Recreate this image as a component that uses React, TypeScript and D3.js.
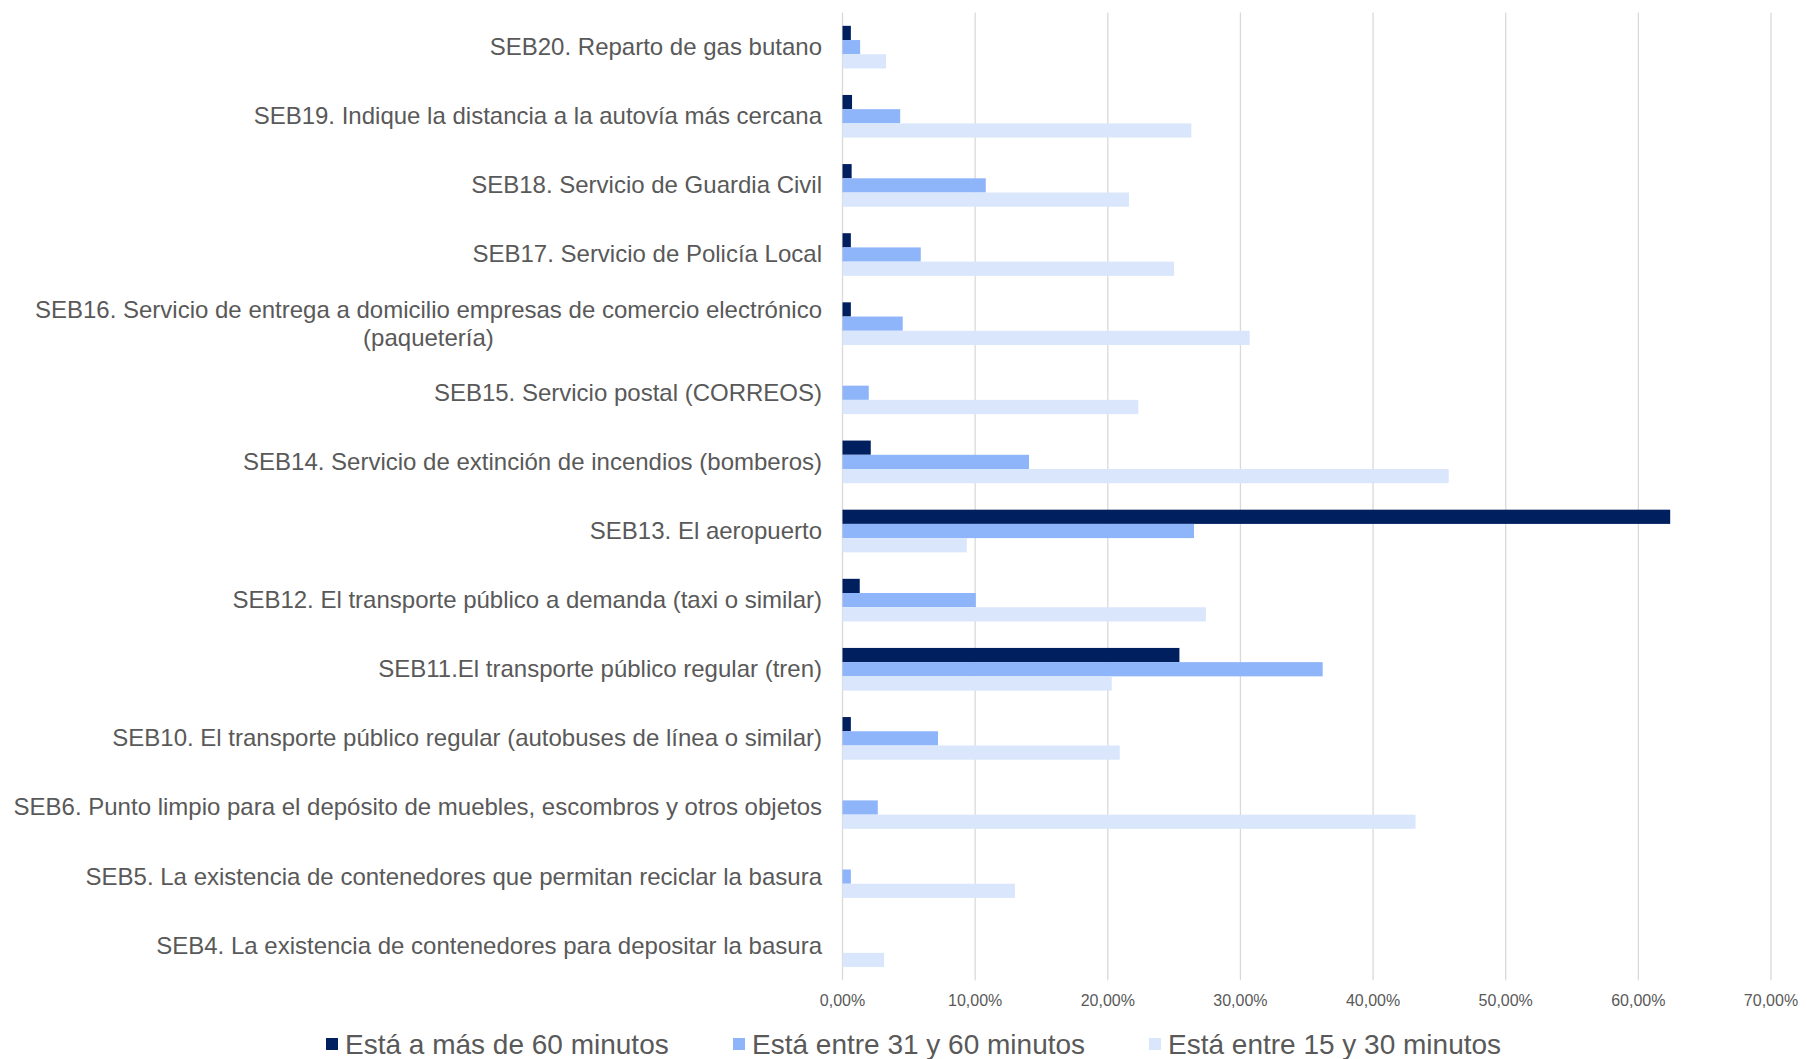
import React, { useEffect, useRef } from "react";
import * as d3 from "d3";

const categories: string[][] = [
  ["SEB20. Reparto de gas butano"],
  ["SEB19. Indique la distancia a la autovía más cercana"],
  ["SEB18. Servicio de Guardia Civil"],
  ["SEB17. Servicio de Policía Local"],
  ["SEB16. Servicio de entrega a domicilio empresas de comercio electrónico", "(paquetería)"],
  ["SEB15. Servicio postal (CORREOS)"],
  ["SEB14. Servicio de extinción de incendios (bomberos)"],
  ["SEB13. El aeropuerto"],
  ["SEB12. El transporte público a demanda (taxi o similar)"],
  ["SEB11.El transporte público regular (tren)"],
  ["SEB10. El transporte público regular (autobuses de línea o similar)"],
  ["SEB6. Punto limpio para el depósito de muebles, escombros y otros objetos"],
  ["SEB5. La existencia de contenedores que permitan reciclar la basura"],
  ["SEB4. La existencia de contenedores para depositar la basura"],
];

const seriesNames = [
  "Está a más de 60 minutos",
  "Está entre 31 y 60 minutos",
  "Está entre 15 y 30 minutos",
];

const mas60 = [0.63, 0.72, 0.69, 0.63, 0.63, 0, 2.13, 62.4, 1.3, 25.4, 0.63, 0, 0, 0];
const entre31y60 = [1.33, 4.35, 10.8, 5.9, 4.54, 1.98, 14.06, 26.5, 10.05, 36.2, 7.2, 2.66, 0.63, 0];
const entre15y30 = [3.29, 26.3, 21.6, 25.0, 30.7, 22.3, 45.7, 9.37, 27.4, 20.3, 20.9, 43.2, 13.0, 3.14];

const xTicks = [0, 10, 20, 30, 40, 50, 60, 70];
const colors = ["#001F5F", "#8EB4FA", "#D9E6FB"];

const W = 1807;
const H = 1059;

export default function App() {
  const ref = useRef<SVGSVGElement>(null);

  useEffect(() => {
    const svg = d3.select(ref.current);
    svg.selectAll("*").remove();

    const x0 = 842.5;
    const x1 = 1771;
    const yTop = 12.6;
    const yBot = 980.3;
    const labelRight = 822;

    const x = d3.scaleLinear().domain([0, 70]).range([x0, x1]);
    const keys = categories.map((_, i) => String(i));
    const y = d3.scaleBand<string>().domain(keys).range([yTop, yBot]).paddingInner(0.383).paddingOuter(0.1915);
    const ys = d3.scaleBand<string>().domain(["0", "1", "2"]).range([0, y.bandwidth()]).padding(0);

    const series = [mas60, entre31y60, entre15y30];

    svg.append("g")
      .selectAll("line")
      .data(xTicks)
      .join("line")
      .attr("x1", (d) => x(d))
      .attr("x2", (d) => x(d))
      .attr("y1", yTop)
      .attr("y2", yBot)
      .attr("stroke", "#D9D9D9")
      .attr("stroke-width", 1.3);

    const g = svg.append("g");
    series.forEach((vals, si) => {
      g.append("g")
        .selectAll("rect")
        .data(vals)
        .join("rect")
        .attr("x", x(0))
        .attr("y", (_, i) => (y(String(i)) as number) + (ys(String(si)) as number))
        .attr("width", (d) => Math.max(0, x(d) - x(0)))
        .attr("height", ys.bandwidth())
        .attr("fill", colors[si]);
    });

    const lg = svg.append("g")
      .attr("font-family", "'Liberation Sans', Arial, sans-serif")
      .attr("font-size", 24)
      .attr("fill", "#595959");
    categories.forEach((lines, i) => {
      const cy = (y(String(i)) as number) + y.bandwidth() / 2 - 0.5;
      if (lines.length === 1) {
        lg.append("text")
          .attr("x", labelRight)
          .attr("y", cy)
          .attr("dy", "0.35em")
          .attr("text-anchor", "end")
          .text(lines[0]);
      } else {
        const lh = 28;
        const t1 = lg.append("text")
          .attr("x", labelRight)
          .attr("y", cy - lh / 2)
          .attr("dy", "0.35em")
          .attr("text-anchor", "end")
          .text(lines[0]);
        const w1 = (t1.node() as SVGTextElement).getComputedTextLength();
        lg.append("text")
          .attr("x", labelRight - w1 / 2)
          .attr("y", cy + lh / 2)
          .attr("dy", "0.35em")
          .attr("text-anchor", "middle")
          .text(lines[1]);
      }
    });

    const fmt = (d: number) => d.toFixed(2).replace(".", ",") + "%";
    svg.append("g")
      .attr("font-family", "'Liberation Sans', Arial, sans-serif")
      .attr("font-size", 16)
      .attr("fill", "#595959")
      .selectAll("text")
      .data(xTicks)
      .join("text")
      .attr("x", (d) => x(d))
      .attr("y", 1000)
      .attr("dy", "0.35em")
      .attr("text-anchor", "middle")
      .text((d) => fmt(d));

    const legX = [326, 733, 1149];
    const leg = svg.append("g")
      .attr("font-family", "'Liberation Sans', Arial, sans-serif")
      .attr("font-size", 28)
      .attr("fill", "#595959");
    seriesNames.forEach((name, i) => {
      leg.append("rect")
        .attr("x", legX[i])
        .attr("y", 1038)
        .attr("width", 12)
        .attr("height", 12)
        .attr("fill", colors[i]);
      leg.append("text")
        .attr("x", legX[i] + 19)
        .attr("y", 1044)
        .attr("dy", "0.35em")
        .text(name);
    });
  }, []);

  return (
    <svg
      ref={ref}
      width={W}
      height={H}
      style={{ position: "absolute", left: 0, top: 0, background: "#fff" }}
    />
  );
}
